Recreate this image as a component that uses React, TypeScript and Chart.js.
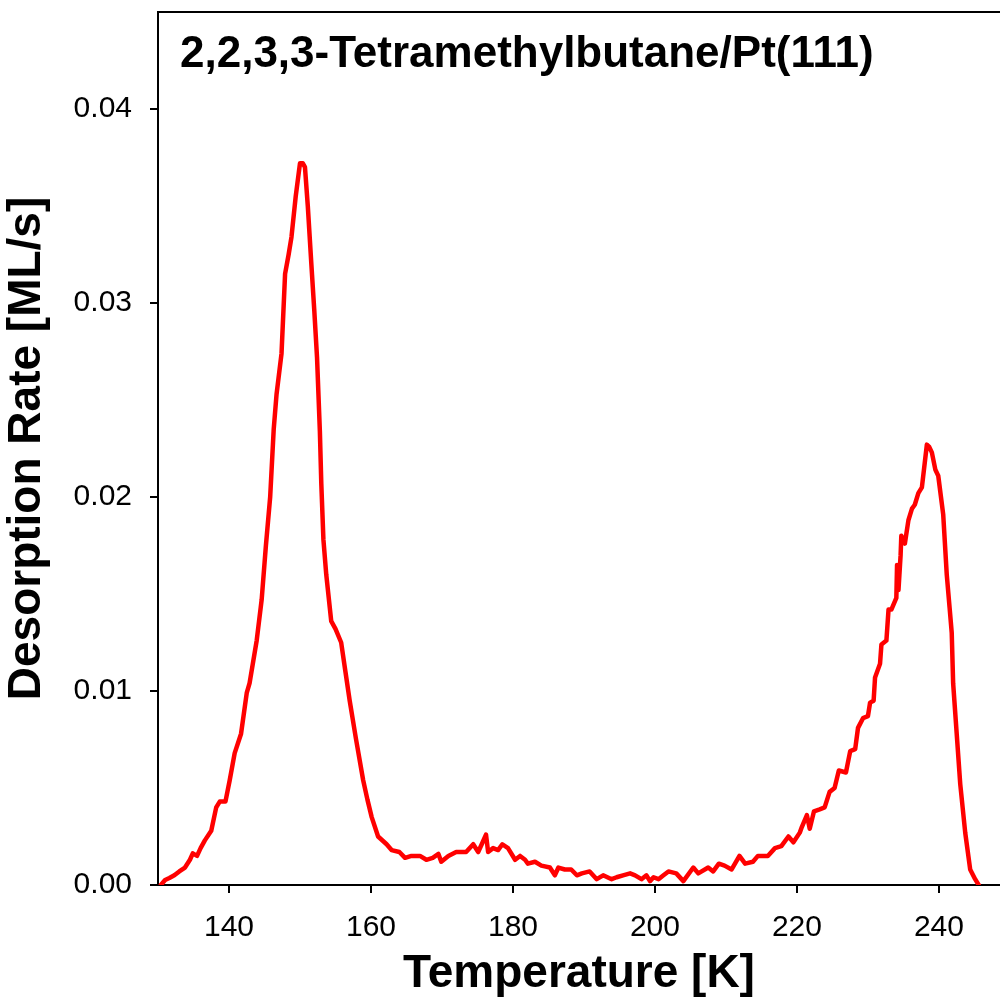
import React, { useEffect, useRef } from "react";
import { Chart, registerables } from "chart.js";

Chart.register(...registerables);

const temperatures: number[] = [
  130.4, 131.0, 131.6, 132.3, 133.0, 133.8, 134.5, 134.9, 135.5, 136.0, 136.6, 137.5, 138.2, 138.7, 139.5,
  140.1, 140.8, 141.7, 142.5, 142.9, 143.9, 144.6, 145.2, 145.8, 146.3, 146.7, 147.4, 147.9, 148.4, 148.8,
  149.4, 150.0, 150.4, 150.7, 151.1, 151.6, 152.0, 152.4, 152.8, 153.0, 153.3, 153.7, 154.4, 155.0, 155.8,
  156.4, 157.0, 157.9, 158.9, 159.5, 160.1, 161.0, 162.2, 162.9, 164.0, 164.8, 165.7, 166.9, 167.8, 168.7,
  169.5, 169.9, 170.9, 172.0, 173.4, 174.4, 175.1, 175.6, 176.2, 176.5, 177.2, 177.9, 178.5, 179.3, 180.3,
  181.0, 181.7, 182.1, 183.1, 184.0, 185.2, 185.9, 186.4, 187.3, 188.2, 189.0, 189.7, 190.8, 191.8, 192.7,
  193.9, 194.6, 195.5, 196.5, 197.2, 198.1, 198.8, 199.3, 199.8, 200.5, 201.2, 201.9, 203.0, 204.0, 205.4,
  206.1, 207.5, 208.2, 209.0, 209.8, 210.8, 211.9, 212.7, 213.8, 214.5, 215.9, 216.9, 217.8, 218.8, 219.5,
  220.4, 220.7, 221.4, 221.8, 222.4, 223.2, 223.9, 224.6, 225.3, 225.9, 226.9, 227.5, 228.2, 228.6, 229.3,
  230.0, 230.3, 230.8, 231.0, 231.7, 231.9, 232.6, 232.9, 233.3, 234.0, 234.1, 234.3, 234.6, 234.7, 235.2,
  235.7, 236.2, 236.6, 237.1, 237.6, 238.3, 238.6, 239.0, 239.5, 239.9, 240.6, 241.1, 241.5, 241.8, 242.0,
  242.5, 243.0, 243.7, 244.4, 245.1, 245.6,
];

const desorptionRates: number[] = [
  0, 0.00026, 0.00036, 0.0005, 0.0007, 0.0009, 0.0013, 0.00163, 0.0015, 0.0019, 0.0023, 0.0028, 0.004, 0.0043, 0.0043,
  0.0054, 0.0068, 0.0078, 0.0099, 0.0104, 0.0126, 0.0147, 0.0175, 0.02, 0.0235, 0.0253, 0.0274, 0.0315, 0.0325, 0.0334,
  0.0355, 0.0372, 0.0372, 0.037, 0.035, 0.032, 0.0297, 0.0272, 0.0234, 0.0207, 0.0178, 0.016, 0.0136, 0.0132, 0.0125,
  0.011, 0.0095, 0.0075, 0.0054, 0.0044, 0.0035, 0.0025, 0.0021, 0.0018, 0.0017, 0.0014, 0.0015, 0.0015, 0.0013, 0.0014,
  0.0016, 0.0012, 0.0015, 0.0017, 0.0017, 0.0021, 0.0017, 0.0021, 0.0026, 0.0017, 0.0019, 0.0018, 0.0021, 0.0019, 0.0013,
  0.0015, 0.0013, 0.0011, 0.0012, 0.001, 0.0009, 0.0005, 0.0009, 0.0008, 0.0008, 0.0005, 0.0006, 0.0007, 0.0003, 0.0005,
  0.0003, 0.0004, 0.0005, 0.0006, 0.0005, 0.0003, 0.0005, 0.0002, 0.0004, 0.0003, 0.0005, 0.0007, 0.0006, 0.0002, 0.0009,
  0.0006, 0.0009, 0.0007, 0.0011, 0.001, 0.0008, 0.0015, 0.0011, 0.0012, 0.0015, 0.0015, 0.0019, 0.002, 0.0025, 0.0022,
  0.0027, 0.003, 0.0036, 0.0029, 0.0038, 0.0039, 0.004, 0.0048, 0.005, 0.0059, 0.0058, 0.0069, 0.007, 0.0081, 0.0086,
  0.0087, 0.0094, 0.0095, 0.0107, 0.0114, 0.0124, 0.0126, 0.0142, 0.0142, 0.0148, 0.0165, 0.0152, 0.017, 0.018, 0.0176,
  0.0188, 0.0194, 0.0196, 0.0202, 0.0205, 0.0227, 0.0226, 0.0223, 0.0214, 0.0211, 0.0191, 0.016, 0.0143, 0.013, 0.0104,
  0.0078, 0.0052, 0.0027, 0.0008, 0.0003, 0,
];

const xTicks: number[] = [140, 160, 180, 200, 220, 240];
const yTicks: number[] = [0, 0.01, 0.02, 0.03, 0.04];

const chartTitle = "2,2,3,3-Tetramethylbutane/Pt(111)";
const xTitle = "Temperature [K]";
const yTitle = "Desorption Rate [ML/s]";

const FONT = "'Liberation Sans', Arial, Helvetica, sans-serif";

const frameAndTitle = {
  id: "frameAndTitle",
  afterDraw(chart: any) {
    const { ctx, chartArea } = chart;
    ctx.save();
    ctx.strokeStyle = "#000";
    ctx.lineWidth = 2;
    ctx.beginPath();
    ctx.moveTo(chartArea.left - 1, chartArea.top);
    ctx.lineTo(chartArea.right, chartArea.top);
    ctx.stroke();
    ctx.fillStyle = "#000";
    ctx.font = `bold 44px ${FONT}`;
    ctx.textAlign = "left";
    ctx.textBaseline = "alphabetic";
    ctx.fillText(chartTitle, chartArea.left + 22, chartArea.top + 55);
    ctx.restore();
  },
};

export default function App() {
  const canvasRef = useRef<HTMLCanvasElement | null>(null);

  useEffect(() => {
    if (!canvasRef.current) return;
    const points = temperatures.map((t, i) => ({ x: t, y: desorptionRates[i] }));
    const chart = new Chart(canvasRef.current, {
      type: "line",
      data: {
        datasets: [
          {
            data: points,
            borderColor: "rgb(255,0,0)",
            borderWidth: 4.5,
            pointRadius: 0,
            tension: 0,
            fill: false,
            borderJoinStyle: "round",
            borderCapStyle: "round",
          },
        ],
      },
      options: {
        animation: false,
        responsive: false,
        devicePixelRatio: 1,
        layout: { padding: { top: 12, left: 0, right: 0, bottom: 0 } },
        plugins: { legend: { display: false }, tooltip: { enabled: false }, title: { display: false } },
        scales: {
          x: {
            type: "linear",
            min: 130,
            max: 248.6,
            afterFit: (scale: any) => {
              scale.height = 117;
              scale.paddingLeft = 0;
              scale.paddingRight = 0;
            },
            afterBuildTicks: (scale: any) => {
              scale.ticks = xTicks.map((v) => ({ value: v }));
            },
            border: { display: true, color: "#000", width: 2 },
            grid: { display: true, drawOnChartArea: false, drawTicks: true, tickLength: 8, color: "#000", lineWidth: 2 },
            ticks: {
              color: "#000",
              font: { family: FONT, size: 30 },
              padding: 17,
              maxRotation: 0,
              autoSkip: false,
              callback: (v: any) => String(v),
            },
            title: {
              display: true,
              text: xTitle,
              color: "#000",
              font: { family: FONT, size: 46, weight: "bold" },
              padding: { top: 0, bottom: 0 },
            },
          },
          y: {
            type: "linear",
            min: 0,
            max: 0.045,
            afterFit: (scale: any) => {
              scale.width = 158;
              scale.paddingTop = 0;
              scale.paddingBottom = 0;
            },
            afterBuildTicks: (scale: any) => {
              scale.ticks = yTicks.map((v) => ({ value: v }));
            },
            border: { display: true, color: "#000", width: 2 },
            grid: { display: true, drawOnChartArea: false, drawTicks: true, tickLength: 8, color: "#000", lineWidth: 2 },
            ticks: {
              color: "#000",
              font: { family: FONT, size: 30 },
              padding: 18,
              autoSkip: false,
              callback: (v: any) => Number(v).toFixed(2),
            },
            title: {
              display: true,
              text: yTitle,
              color: "#000",
              font: { family: FONT, size: 46, weight: "bold" },
              padding: { top: 0, bottom: 0 },
            },
          },
        },
      },
      plugins: [frameAndTitle],
    });
    return () => chart.destroy();
  }, []);

  return (
    <div style={{ position: "fixed", left: 0, top: 0, width: 1000, height: 1002, background: "#fff" }}>
      <canvas ref={canvasRef} width={1000} height={1002} style={{ width: 1000, height: 1002, display: "block" }} />
    </div>
  );
}
